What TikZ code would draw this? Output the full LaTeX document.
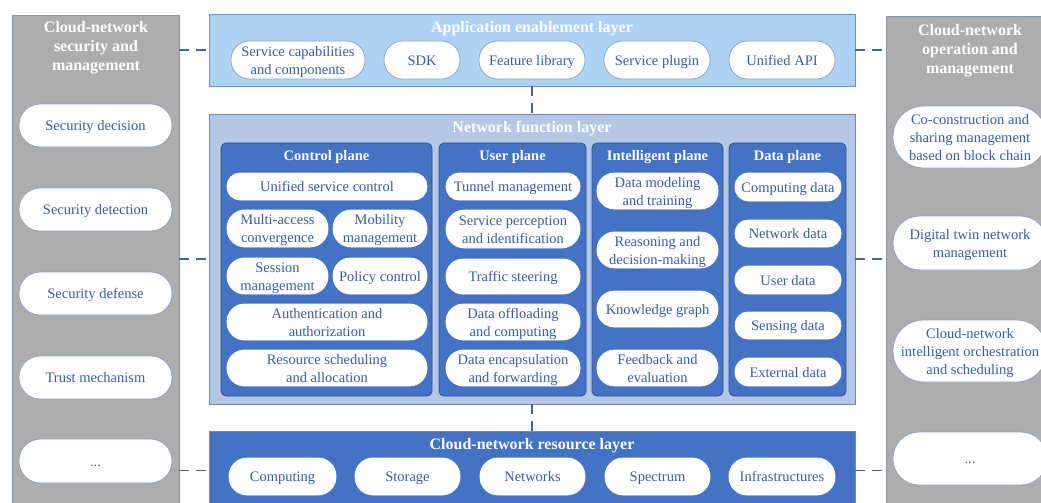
\documentclass[tikz,border=0pt]{standalone}
\usepackage{fontspec}
\setmainfont{Liberation Serif}
\definecolor{colgray}{HTML}{ADADAD}
\definecolor{colline}{HTML}{8497B0}
\definecolor{appfill}{HTML}{AED2F4}
\definecolor{appline}{HTML}{6E8FC4}
\definecolor{nffill}{HTML}{B4C7E7}
\definecolor{nfline}{HTML}{7088B8}
\definecolor{planefill}{HTML}{4472C4}
\definecolor{planeline}{HTML}{2F528F}
\definecolor{pillline}{HTML}{8FA2C4}
\definecolor{pilltext}{HTML}{3A5CA3}
\definecolor{linkcol}{HTML}{44649C}

% rectangle placed by its corners (x1,y1) and (x2,y2)
\newcommand\boxat[7][]{%
  \pgfmathsetmacro\bxc{(#3+#5)/2}%
  \pgfmathsetmacro\byc{(#4+#6)/2}%
  \pgfmathsetmacro\bw{#5-#3}%
  \pgfmathsetmacro\bh{#6-#4}%
  \node[#1, minimum width=\bw pt, minimum height=\bh pt] (#2) at (\bxc,\byc) {#7};}
% pill outline placed by its corners
\newcommand\pillshape[6][]{%
  \pgfmathsetmacro\bxc{(#3+#5)/2}%
  \pgfmathsetmacro\byc{(#4+#6)/2}%
  \pgfmathsetmacro\bw{#5-#3}%
  \pgfmathsetmacro\bh{#6-#4}%
  \pgfmathsetmacro\br{\bh/2-0.5}%
  \node[pillbox, #1, minimum width=\bw pt, minimum height=\bh pt, rounded corners=\br pt] (#2) at (\bxc,\byc) {};}
% pill with a one-line label
\newcommand\pill[7][]{%
  \pillshape[#1]{#2}{#3}{#4}{#5}{#6}%
  \node[pilllabel] (#2-text) at (#2.center) {#7};}
% pill with a label of several lines
\newcommand\mpill[7][]{%
  \pillshape[#1]{#2}{#3}{#4}{#5}{#6}%
  \node[pilllabel] (#2-text) at ([yshift=-2pt]#2.center) {#7};}

\begin{document}
\begin{tikzpicture}[x=1pt, y=-1pt,
  pillbox/.style={draw=pillline, fill=white, line width=0.8pt, inner sep=0pt},
  pilllabel/.style={text=pilltext, align=center, inner sep=0pt,
    font=\fontsize{14.5}{18}\selectfont,
    execute at begin node={\rule{0pt}{14pt}},
    execute at end node={\rule[-3.6pt]{0pt}{3.6pt}}},
  whitepill/.style={draw=white},
  graycol/.style={draw=colline, fill=colgray, line width=0.8pt, inner sep=0pt},
  layerA/.style={draw=appline, fill=appfill, line width=0.8pt, inner sep=0pt},
  layerB/.style={draw=nfline, fill=nffill, line width=0.8pt, inner sep=0pt},
  layerC/.style={draw=nfline, fill=planefill, line width=0.8pt, inner sep=0pt},
  planebox/.style={draw=planeline, fill=planefill, line width=0.8pt, inner sep=0pt, rounded corners=5pt},
  titletext/.style={text=white, font=\bfseries\fontsize{16}{19}\selectfont, align=center, inner sep=0pt,
    execute at begin node={\rule{0pt}{15pt}},
    execute at end node={\rule[-4.4pt]{0pt}{4.4pt}}},
  planetitle/.style={text=white, font=\bfseries\fontsize{14.5}{17}\selectfont, inner sep=0pt,
    execute at begin node={\rule{0pt}{14pt}},
    execute at end node={\rule[-3.6pt]{0pt}{3.6pt}}},
  link/.style={draw=linkcol, line width=1.8pt, dash pattern=on 10pt off 7pt},
]
\clip (0,0) rectangle (1041,503);

% ---------- left column: security and management ----------
\boxat[graycol]{secmgmt}{12}{15}{179}{520}{}
\node[titletext] (sectitle) at (96,48) {Cloud-network\\security and\\management};
\pill{sec1}{19}{104}{172}{147}{Security decision}
\pill{sec2}{19}{188}{172}{231}{Security detection}
\pill{sec3}{19}{272}{172}{315}{Security defense}
\pill{sec4}{19}{356}{172}{399}{Trust mechanism}
\pill{sec5}{19}{439}{172}{483}{...}

% ---------- right column: operation and management ----------
\boxat[graycol]{opmgmt}{886}{16}{1070}{520}{}
\node[titletext] (optitle) at (970,51) {Cloud-network\\operation and\\management};
\mpill{op1}{893}{106}{1047}{168}{Co-construction and\\sharing management\\based on block chain}
\mpill{op2}{893}{216}{1047}{270}{Digital twin network\\management}
\mpill{op3}{893}{320}{1047}{382}{Cloud-network\\intelligent orchestration\\and scheduling}
\pill{op4}{893}{432}{1047}{485}{...}

% ---------- application enablement layer ----------
\boxat[layerA]{applayer}{209}{14}{855}{86}{}
\node[titletext] (apptitle) at (532,27) {Application enablement layer};
\mpill{app1}{231}{41}{365}{79}{Service capabilities\\and components}
\pill{app2}{384}{41}{460}{79}{SDK}
\pill{app3}{479}{41}{585}{79}{Feature library}
\pill{app4}{604}{41}{710}{79}{Service plugin}
\pill{app5}{729}{41}{835}{79}{Unified API}

% ---------- network function layer ----------
\boxat[layerB]{nflayer}{209}{114}{855}{404}{}
\node[titletext] (nftitle) at (532,127) {Network function layer};

\boxat[planebox]{cplane}{221}{143}{432}{396}{}
\node[planetitle] (cptitle) at (326.5,155) {Control plane};
\pill[whitepill]{cp1}{227}{173}{427}{200}{Unified service control}
\mpill[whitepill]{cp2}{227}{210}{328}{247}{Multi-access\\convergence}
\mpill[whitepill]{cp3}{333}{210}{427}{247}{Mobility\\management}
\mpill[whitepill]{cp4}{227}{258}{328}{294}{Session\\management}
\pill[whitepill]{cp5}{333}{258}{427}{294}{Policy control}
\mpill[whitepill]{cp6}{227}{304}{427}{340}{Authentication and\\authorization}
\mpill[whitepill]{cp7}{227}{350}{427}{386}{Resource scheduling\\and allocation}

\boxat[planebox]{uplane}{439}{143}{586}{396}{}
\node[planetitle] (uptitle) at (512.5,155) {User plane};
\pill[whitepill]{up1}{446}{173}{580}{200}{Tunnel management}
\mpill[whitepill]{up2}{446}{210}{580}{248}{Service perception\\and identification}
\pill[whitepill]{up3}{446}{259}{580}{294}{Traffic steering}
\mpill[whitepill]{up4}{446}{304}{580}{340}{Data offloading\\and computing}
\mpill[whitepill]{up5}{446}{350}{580}{386}{Data encapsulation\\and forwarding}

\boxat[planebox]{iplane}{592}{143}{723}{396}{}
\node[planetitle] (iptitle) at (657.5,155) {Intelligent plane};
\mpill[whitepill]{ip1}{597}{173}{718}{209}{Data modeling\\and training}
\mpill[whitepill]{ip2}{597}{232}{718}{268}{Reasoning and\\decision-making}
\pill[whitepill]{ip3}{597}{291}{718}{327}{Knowledge graph}
\mpill[whitepill]{ip4}{597}{350}{718}{386}{Feedback and\\evaluation}

\boxat[planebox]{dplane}{729}{143}{846}{396}{}
\node[planetitle] (dptitle) at (787.5,155) {Data plane};
\pill[whitepill]{dp1}{735}{173}{841}{201}{Computing data}
\pill[whitepill]{dp2}{735}{220}{841}{247}{Network data}
\pill[whitepill]{dp3}{735}{266}{841}{294}{User data}
\pill[whitepill]{dp4}{735}{312}{841}{339}{Sensing data}
\pill[whitepill]{dp5}{735}{358}{841}{386}{External data}

% ---------- cloud-network resource layer ----------
\boxat[layerC]{reslayer}{209}{431}{855}{510}{}
\node[titletext] (restitle) at (532,444) {Cloud-network resource layer};
\pill[whitepill]{res1}{229}{458}{336}{495}{Computing}
\pill[whitepill]{res2}{355}{458}{460}{495}{Storage}
\pill[whitepill]{res3}{480}{458}{585}{495}{Networks}
\pill[whitepill]{res4}{605}{458}{710}{495}{Spectrum}
\pill[whitepill]{res5}{729}{458}{835}{495}{Infrastructures}

% ---------- dashed links ----------
\draw[link] (applayer.west -| secmgmt.east) -- (applayer.west);
\draw[link] (nflayer.west -| secmgmt.east) -- (nflayer.west);
\draw[link] (reslayer.west -| secmgmt.east) -- (reslayer.west);
\draw[link] (applayer.east) -- (applayer.east -| opmgmt.west);
\draw[link] (nflayer.east) -- (nflayer.east -| opmgmt.west);
\draw[link] (reslayer.east) -- (reslayer.east -| opmgmt.west);
\draw[link] (applayer.south) -- (nflayer.north);
\draw[link] (nflayer.south) -- (reslayer.north);
\end{tikzpicture}
\end{document}
